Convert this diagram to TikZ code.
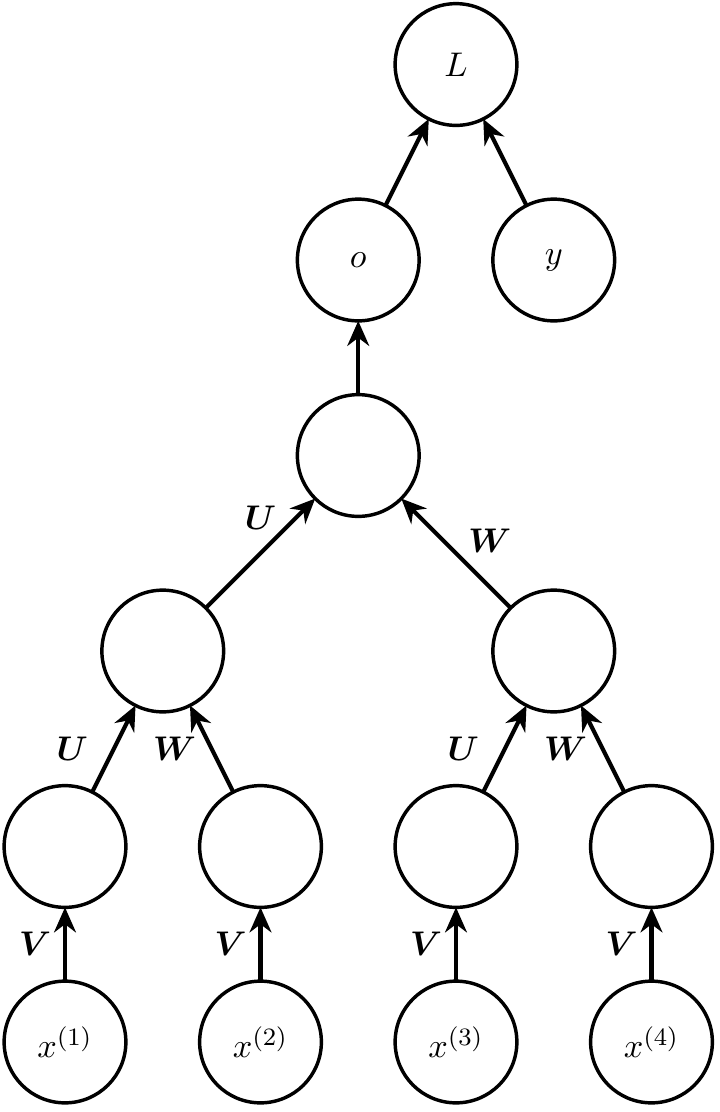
\documentclass[tikz,border=0pt]{standalone}
\usepackage{tikz}
\usepackage{amsfonts}
\usepackage{bm}
\usetikzlibrary{arrows.meta, shapes}

\begin{document}
\begin{tikzpicture}[x=2.2cm, y=2.2cm,
	unit/.style={circle, draw, line width=1.1pt, minimum size=1.37cm, inner sep=0pt, outer sep=0pt, font=\fontsize{11}{13}\selectfont},
	edge/.style={line width=1.3pt, -{Stealth[length=8pt, width=7pt]}},
	wt/.style={font=\fontsize{11}{13}\selectfont}]
	\useasboundingbox (-0.3325,-0.358) rectangle (3.350,5.330);
	% leaves
	\node[unit] (x1) at (0,0) {$x^{(1)}$};
	\node[unit] (x2) at (1,0) {$x^{(2)}$};
	\node[unit] (x3) at (2,0) {$x^{(3)}$};
	\node[unit] (x4) at (3,0) {$x^{(4)}$};
	\node[unit] (h1) at (0,1) {};
	\node[unit] (h2) at (1,1) {};
	\node[unit] (h3) at (2,1) {};
	\node[unit] (h4) at (3,1) {};
	\node[unit] (g1) at (0.5,2) {};
	\node[unit] (g2) at (2.5,2) {};
	\node[unit] (r) at (1.5,3) {};
	\node[unit] (o) at (1.5,4) {$o$};
	\node[unit] (y) at (2.5,4) {$y$};
	\node[unit] (L) at (2,5) {$L$};
	% edges
	\draw[edge] (x1) -- node[wt, left=0.5pt] {$\bm{V}$} (h1);
	\draw[edge] (x2) -- node[wt, left=0.5pt] {$\bm{V}$} (h2);
	\draw[edge] (x3) -- node[wt, left=0.5pt] {$\bm{V}$} (h3);
	\draw[edge] (x4) -- node[wt, left=0.5pt] {$\bm{V}$} (h4);
	\draw[edge] (h1) -- node[wt, left=4.3pt] {$\bm{U}$} (g1);
	\draw[edge] (h2) -- node[wt, left=1pt] {$\bm{W}$} (g1);
	\draw[edge] (h3) -- node[wt, left=4.3pt] {$\bm{U}$} (g2);
	\draw[edge] (h4) -- node[wt, left=1pt] {$\bm{W}$} (g2);
	\draw[edge] (g1) -- node[wt, above=3.5pt] {$\bm{U}$} (r);
	\draw[edge] (g2) -- node[wt, right=0pt, yshift=4pt] {$\bm{W}$} (r);
	\draw[edge] (r) -- (o);
	\draw[edge] (o) -- (L);
	\draw[edge] (y) -- (L);
\end{tikzpicture}
\end{document}
